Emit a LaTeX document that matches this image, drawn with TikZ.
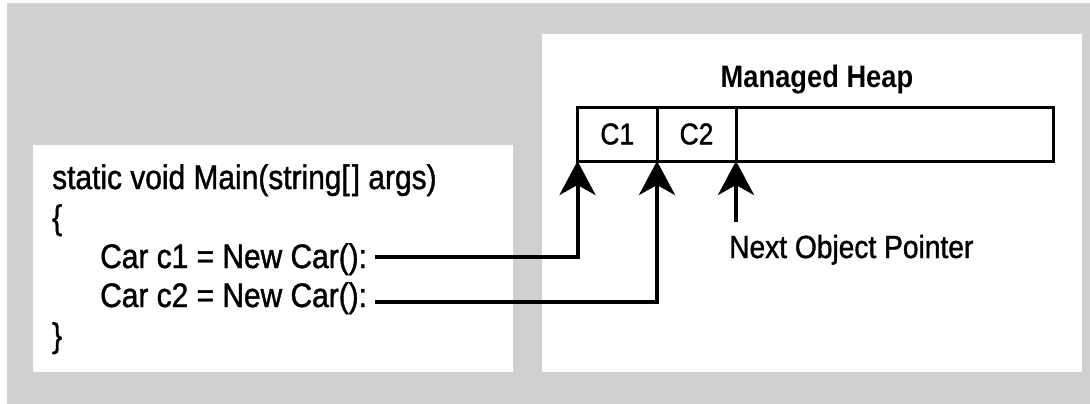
\documentclass[tikz,border=0pt]{standalone}
\usepackage{fontspec}
\setmainfont{Liberation Sans}
\newfontfamily\condfont{Liberation Sans}[FakeStretch=0.88, FakeBold=1.2]
\newfontfamily\condbold{Liberation Sans Bold}[FakeStretch=0.88]
\usetikzlibrary{arrows.meta}

\definecolor{panelgray}{RGB}{208,208,208}

\tikzset{
  panel/.style={fill=white, draw=none},
  codetext/.style={anchor=base west, inner sep=0pt, font=\condfont\fontsize{34}{40}\selectfont},
  heapcell/.style={draw=black, line width=3pt, minimum height=54pt, inner sep=0pt, outer sep=0pt,
                   font=\condfont\fontsize{30}{32}\selectfont},
  pointer/.style={line width=4pt, -{Stealth[length=34pt, width=36pt, inset=10pt]}},
}

\begin{document}
\begin{tikzpicture}[x=1pt, y=-1pt]
  % page and grey backdrop
  \useasboundingbox (0,0) rectangle (1090,404);
  \fill[white] (0,0) rectangle (1090,404);
  \fill[panelgray] (7,3) rectangle (1090,404);

  % the two white panels
  \fill[panel] (33,145) rectangle (513,372);
  \fill[panel] (542,34) rectangle (1082,372);

  % code listing
  \node[codetext] (sig)  at (52,189)  {static void Main(string[\kern2pt] args)};
  \node[codetext] (open) at (52,229)  {\{};
  \node[codetext] (c1)   at (100,268) {Car c1 = New Car():};
  \node[codetext] (c2)   at (100,307) {Car c2 = New Car():};
  \node[codetext] (close) at (52,347) {\}};

  % managed heap
  \node[anchor=base, inner sep=0pt, font=\condbold\fontsize{31}{36}\selectfont]
    (title) at (817,88) {Managed Heap};
  \node[heapcell, minimum width=79.5pt, anchor=north west] (cellA) at (577.5,107) {C1};
  \node[heapcell, minimum width=79pt, anchor=north west] (cellB) at (cellA.north east) {C2};
  \node[heapcell, minimum width=317.5pt, anchor=north west] (free) at (cellB.north east) {};

  % pointers into the heap
  \coordinate (s1) at (375,257);
  \coordinate (s2) at (375,302);
  \coordinate (np) at (free.south west |- 0,222);
  \draw[pointer] (s1) -| (cellA.south west);
  \draw[pointer] (s2) -| (cellB.south west);
  \draw[pointer] (np) -- (free.south west);

  \node[anchor=base west, inner sep=0pt, font=\condfont\fontsize{32}{36}\selectfont]
    (nextlbl) at (729,258) {Next Object Pointer};
\end{tikzpicture}
\end{document}
